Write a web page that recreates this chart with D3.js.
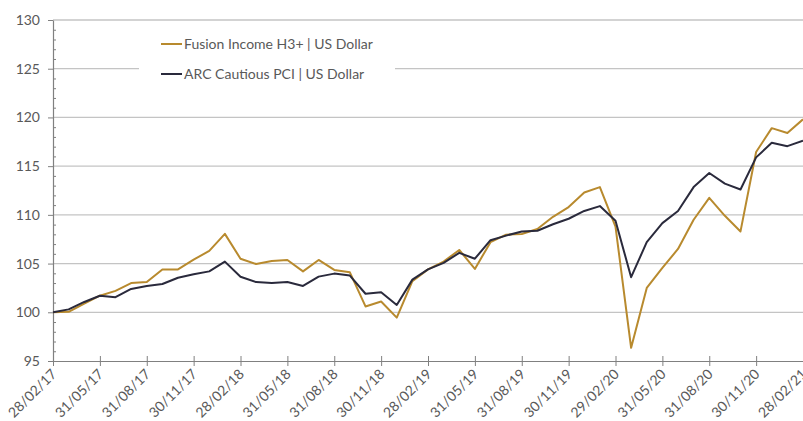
<!DOCTYPE html>
<html><head><meta charset="utf-8">
<script src="https://cdn.jsdelivr.net/npm/d3@7"></script>
<style>
html,body{margin:0;padding:0;background:#fff;}
svg{display:block;font-family:Lato,"Open Sans",sans-serif;}
</style></head>
<body><svg id="c" width="803" height="421"></svg>
<script>
const dates = ["28/02/17","31/03/17","30/04/17","31/05/17","30/06/17","31/07/17","31/08/17","30/09/17","31/10/17","30/11/17","31/12/17",
"31/01/18","28/02/18","31/03/18","30/04/18","31/05/18","30/06/18","31/07/18","31/08/18","30/09/18","31/10/18","30/11/18","31/12/18",
"31/01/19","28/02/19","31/03/19","30/04/19","31/05/19","30/06/19","31/07/19","31/08/19","30/09/19","31/10/19","30/11/19","31/12/19",
"31/01/20","29/02/20","31/03/20","30/04/20","31/05/20","30/06/20","31/07/20","31/08/20","30/09/20","31/10/20","30/11/20","31/12/20",
"31/01/21","28/02/21"];
const tickLabels = ["28/02/17","31/05/17","31/08/17","30/11/17","28/02/18","31/05/18","31/08/18","30/11/18","28/02/19","31/05/19","31/08/19","30/11/19","29/02/20","31/05/20","31/08/20","30/11/20","28/02/21"];
const fusion = [100.0,100.05,100.9,101.7,102.2,103.0,103.1,104.4,104.4,105.4,106.3,108.05,105.5,104.95,105.27,105.37,104.2,105.37,104.35,104.1,100.6,101.1,99.45,103.2,104.4,105.2,106.4,104.45,107.2,107.97,108.04,108.55,109.8,110.8,112.3,112.85,108.8,96.35,102.5,104.55,106.5,109.5,111.75,109.9,108.3,116.45,118.9,118.4,119.8];
const arc = [100.0,100.3,101.06,101.7,101.55,102.4,102.7,102.9,103.55,103.9,104.2,105.2,103.65,103.1,103.0,103.1,102.7,103.66,103.97,103.77,101.9,102.05,100.75,103.35,104.4,105.07,106.1,105.5,107.4,107.87,108.3,108.37,109.04,109.6,110.4,110.9,109.4,103.6,107.2,109.15,110.4,112.85,114.3,113.2,112.6,115.9,117.4,117.05,117.6];
const seriesNames = ["Fusion Income H3+ | US Dollar","ARC Cautious PCI | US Dollar"];
const yTicks = [95,100,105,110,115,120,125,130];

const svg = d3.select("#c");
const x = d3.scalePoint().domain(dates).range([53, 803]).padding(0);
const y = d3.scaleLinear().domain([95,130]).range([361, 20]);
const txt = "#595959";
const fs = "14px";

// gridlines
svg.append("g").selectAll("line").data(yTicks.filter(v=>v>95)).join("line")
  .attr("x1",53).attr("x2",803).attr("y1",d=>y(d)).attr("y2",d=>y(d))
  .attr("stroke","#c4c4c4").attr("stroke-width",1.3);

// minor ticks
const minor = d3.range(96,130).filter(v=>v%5!==0);
svg.append("g").attr("transform","translate(53,0)")
  .call(d3.axisLeft(y).tickValues(minor).tickSize(-3).tickFormat(""))
  .call(g=>g.select(".domain").remove())
  .selectAll("line").attr("stroke","#808080");

// y axis
const ya = svg.append("g").attr("transform","translate(53,0)")
  .call(d3.axisLeft(y).tickValues(yTicks).tickSize(5).tickSizeOuter(0).tickPadding(8));
ya.select(".domain").attr("stroke","#808080").attr("stroke-width",1.2);
ya.selectAll("line").attr("stroke","#808080");
ya.selectAll("text").attr("fill",txt).style("font-size",fs).style("font-family","Lato");

// x axis
const xa = svg.append("g").attr("transform","translate(0,361)")
  .call(d3.axisBottom(x).tickValues(tickLabels).tickSize(5).tickSizeOuter(0));
xa.select(".domain").attr("stroke","#808080").attr("stroke-width",1.2);
xa.selectAll(".tick line").attr("y1",-5).attr("stroke","#808080");
xa.selectAll("text").attr("fill",txt).style("font-size",fs).style("font-family","Lato")
  .attr("text-anchor","end").attr("dy",null).attr("y",null)
  .attr("transform","translate(4,14) rotate(-45)");

// lines
const line = d3.line().x((d,i)=>x(dates[i])).y(d=>y(d));
const colors = ["#B88A2E","#2A2A3C"];
[fusion, arc].forEach((s,k)=>{
  svg.append("path").datum(s).attr("d",line).attr("fill","none")
    .attr("stroke",colors[k]).attr("stroke-width",2).attr("stroke-linejoin","round");
});

// legend
const lg = svg.append("g");
lg.append("rect").attr("x",139).attr("y",26).attr("width",256).attr("height",64).attr("fill","#fff");
seriesNames.forEach((n,k)=>{
  const yy = [44,74][k];
  lg.append("line").attr("x1",161).attr("x2",182).attr("y1",yy).attr("y2",yy)
    .attr("stroke",colors[k]).attr("stroke-width",2);
  lg.append("text").attr("x",184).attr("y",yy+5).text(n).attr("fill",txt)
    .style("font-size",fs).style("font-family","Lato");
});
</script></body></html>
